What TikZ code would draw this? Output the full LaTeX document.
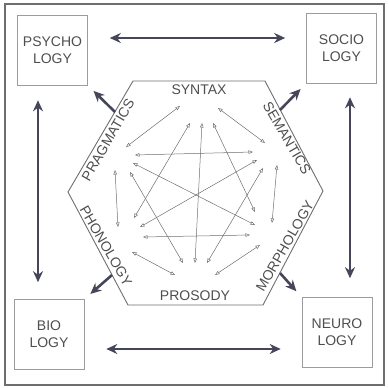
\documentclass[tikz,border=0pt]{standalone}
\usepackage{fontspec}
\setmainfont{Liberation Sans}
\usetikzlibrary{arrows.meta}
\definecolor{InkGray}{HTML}{4E4E4E}
\definecolor{Slate}{HTML}{45465A}
\definecolor{BoxGray}{HTML}{9C9C9C}
\definecolor{LineGray}{HTML}{6E6E6E}

\begin{document}
\begin{tikzpicture}[x=1pt, y=-1pt,
  field/.style={rectangle, draw=BoxGray, line width=0.6pt, minimum width=70pt,
     minimum height=70pt, align=center, text=InkGray, font=\fontsize{14}{17}\selectfont},
  topic/.style={text=InkGray, inner sep=0pt, font=\fontsize{14}{17}\selectfont},
  bigarr/.style={draw=Slate, line width=2.6pt,
     {Stealth[length=11pt,width=10pt]}-{Stealth[length=11pt,width=10pt]}},
  outarr/.style={draw=Slate, line width=2.6pt, -{Stealth[length=11pt,width=10pt]},
     shorten >=8pt},
  link/.style={draw=LineGray, line width=0.5pt,
     {Triangle[open,length=4.5pt,width=3.5pt]}-{Triangle[open,length=4.5pt,width=3.5pt]}}]
  \useasboundingbox (0,0) rectangle (389,388);
  % outer frame
  \draw[LineGray, line width=1.5pt] (5,4) rectangle (384,385);
  % neighbouring disciplines
  \node[field] (psy) at (52.5,50) {PSYCHO\\LOGY};
  \node[field] (soc) at (341.5,48) {SOCIO\\LOGY};
  \node[field] (bio) at (49,334.5) {BIO\\LOGY};
  \node[field] (neu) at (337,332.5) {NEURO\\LOGY};
  \draw[bigarr, shorten <=22pt, shorten >=21pt] ([yshift=12pt]psy.east) -- ([yshift=10pt]soc.west);
  \draw[bigarr, shorten <=22pt, shorten >=21pt] ([yshift=-14.5pt]bio.east) -- ([yshift=-16.5pt]neu.west);
  \draw[bigarr, shorten <=15pt, shorten >=17pt] ([xshift=-14.5pt]psy.south) -- ([xshift=-11pt]bio.north);
  \draw[bigarr, shorten <=14pt, shorten >=19pt] ([xshift=8.5pt]soc.south) -- ([xshift=13pt]neu.north);
  % the hexagon of linguistic levels
  \coordinate (h1) at (133,81);  \coordinate (h2) at (265,81);
  \coordinate (h3) at (323,191); \coordinate (h4) at (263,305);
  \coordinate (h5) at (128,305); \coordinate (h6) at (68,192);
  \draw[LineGray, line width=0.9pt] (h1) -- (h2) -- (h3) -- (h4) -- (h5) -- (h6) -- cycle;
  \node[topic] (syn) at (199,90) {SYNTAX};
  \node[topic, rotate=-60] (sem) at (287,138) {SEMANTICS};
  \node[topic, rotate=60] (mor) at (285,246) {MORPHOLOGY};
  \node[topic] (pro) at (195,296) {PROSODY};
  \node[topic, rotate=-60] (pho) at (106,246) {PHONOLOGY};
  \node[topic, rotate=60] (pra) at (108,140) {PRAGMATICS};
  % outward arrows
  \coordinate (pra-out) at (115,112); \coordinate (sem-out) at (280,110);
  \coordinate (pho-out) at (112,275); \coordinate (mor-out) at (280,273);
  \draw[outarr] (pra-out) -- (psy.south east);
  \draw[outarr] (sem-out) -- (soc.south west);
  \draw[outarr] (pho-out) -- (bio.north east);
  \draw[outarr] (mor-out) -- (neu.north west);
  % link ends, one per pair of levels
  \coordinate (syn-pra) at (180,106); \coordinate (pra-syn) at (126,147);
  \coordinate (syn-sem) at (218,108); \coordinate (sem-syn) at (265,143);
  \coordinate (syn-pho) at (190,123); \coordinate (pho-syn) at (134,218);
  \coordinate (syn-pro) at (202,123); \coordinate (pro-syn) at (195,263);
  \coordinate (syn-mor) at (213,123); \coordinate (mor-syn) at (255,212);
  \coordinate (pra-sem) at (135,155); \coordinate (sem-pra) at (253,152);
  \coordinate (pra-mor) at (133,163); \coordinate (mor-pra) at (255,225);
  \coordinate (pra-pro) at (130,172); \coordinate (pro-pra) at (183,263);
  \coordinate (pra-pho) at (115,170); \coordinate (pho-pra) at (118,227);
  \coordinate (sem-pho) at (257,160); \coordinate (pho-sem) at (140,227);
  \coordinate (sem-pro) at (263,168); \coordinate (pro-sem) at (207,263);
  \coordinate (sem-mor) at (277,165); \coordinate (mor-sem) at (272,223);
  \coordinate (pho-mor) at (143,237); \coordinate (mor-pho) at (250,235);
  \coordinate (pho-pro) at (132,252); \coordinate (pro-pho) at (175,275);
  \coordinate (mor-pro) at (260,245); \coordinate (pro-mor) at (215,275);
  \foreach \a/\b in {syn/pra, syn/sem, syn/pho, syn/pro, syn/mor, pra/sem, pra/mor,
      pra/pro, pra/pho, sem/pho, sem/pro, sem/mor, pho/mor, pho/pro, mor/pro}
    \draw[link] (\a-\b) -- (\b-\a);
\end{tikzpicture}
\end{document}
